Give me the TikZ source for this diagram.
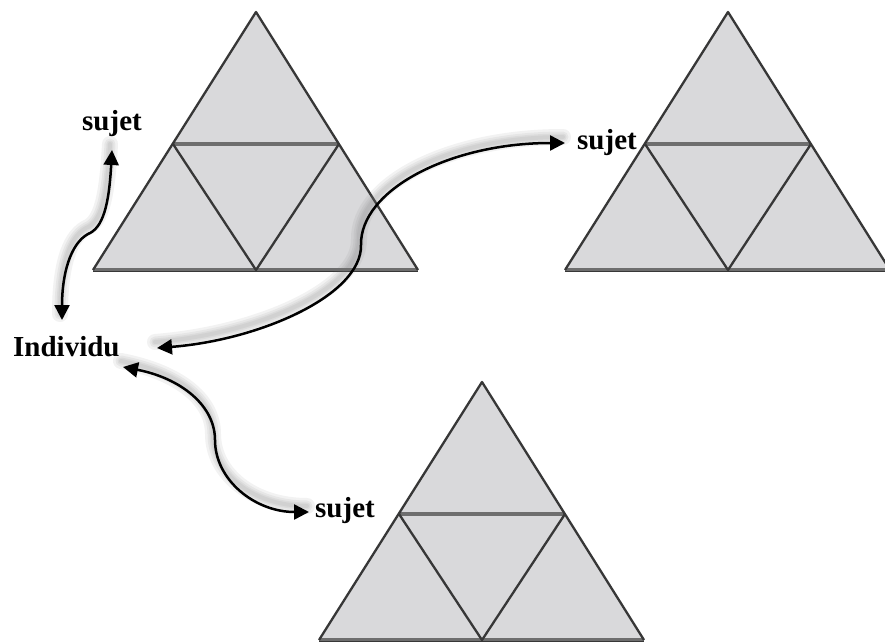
\documentclass[tikz,border=0pt]{standalone}
\usepackage{fontspec}
\setmainfont{Liberation Serif}
\usetikzlibrary{arrows.meta}
\definecolor{trifill}{RGB}{217,217,219}
\definecolor{triedge}{RGB}{55,55,55}
\definecolor{trimid}{RGB}{110,110,110}
\tikzset{
  lbl/.style={font=\fontsize{29}{30}\selectfont\bfseries, inner sep=0pt, anchor=base west},
  conn/.style={line width=2.5pt, black, {Triangle[length=15pt,width=15pt]}-{Triangle[length=15pt,width=15pt]}},
  glowline/.style={line width=#1, black!55, opacity=0.09, line cap=round, transform canvas={shift={(-2pt,6pt)}}},
  triedgeline/.style={triedge, line width=2.3pt, line join=round},
  trimidline/.style={trimid, line width=3.8pt},
  tribaseline/.style={trimid, line width=3.4pt},
}
\newcommand\sierp[2]{%
\begin{scope}[shift={(#1,#2)}]
  \fill[trifill] (0,0) -- (-163,258) -- (162,258) -- cycle;
  \draw[tribaseline] (-163,258) -- (162,258);
  \draw[triedge, line width=1.2pt] (-163,259.5) -- (162,259.5);
  \draw[trimidline] (-83,132) -- (83,132);
  \draw[triedgeline] (-163,258) -- (0,0) -- (162,258);
  \draw[triedgeline] (-83,132) -- (0,258) -- (83,132);
\end{scope}}
\newcommand\glowdraw[1]{%
  \foreach \w in {16,11,7,4}{\draw[glowline=\w pt] #1;}
  \draw[conn] #1;}
\begin{document}
\begin{tikzpicture}[x=1pt,y=-1pt]
\useasboundingbox (0,0) rectangle (885,642);
\fill[white] (0,0) rectangle (885,642);
\clip (0,0) rectangle (885,642);
% triangles
\sierp{256}{12}
\sierp{728}{12}
\sierp{482}{382}
% labels
\node[lbl] (s1) at (82,130) {sujet};
\node[lbl] (s2) at (577,149) {sujet};
\node[lbl] (ind) at (13,356) {Individu};
\node[lbl] (s3) at (315,517) {sujet};
% connector end points
\coordinate (a1s) at (112,150);
\coordinate (a1m) at (88,234);
\coordinate (a1e) at (62,320);
\coordinate (a2s) at (157,348);
\coordinate (a2m) at (361,245);
\coordinate (a2e) at (565,143);
\coordinate (a3s) at (123,367);
\coordinate (a3m) at (215,440);
\coordinate (a3e) at (309,512);
% connectors
\glowdraw{(a1s) .. controls (109,205) and (103,228) .. (a1m) .. controls (70,244) and (62,275) .. (a1e)}
\glowdraw{(a2s) .. controls (260,340) and (362,295) .. (a2m) .. controls (360,190) and (450,143) .. (a2e)}
\glowdraw{(a3s) .. controls (180,378) and (215,405) .. (a3m) .. controls (215,480) and (255,512) .. (a3e)}
\end{tikzpicture}
\end{document}
